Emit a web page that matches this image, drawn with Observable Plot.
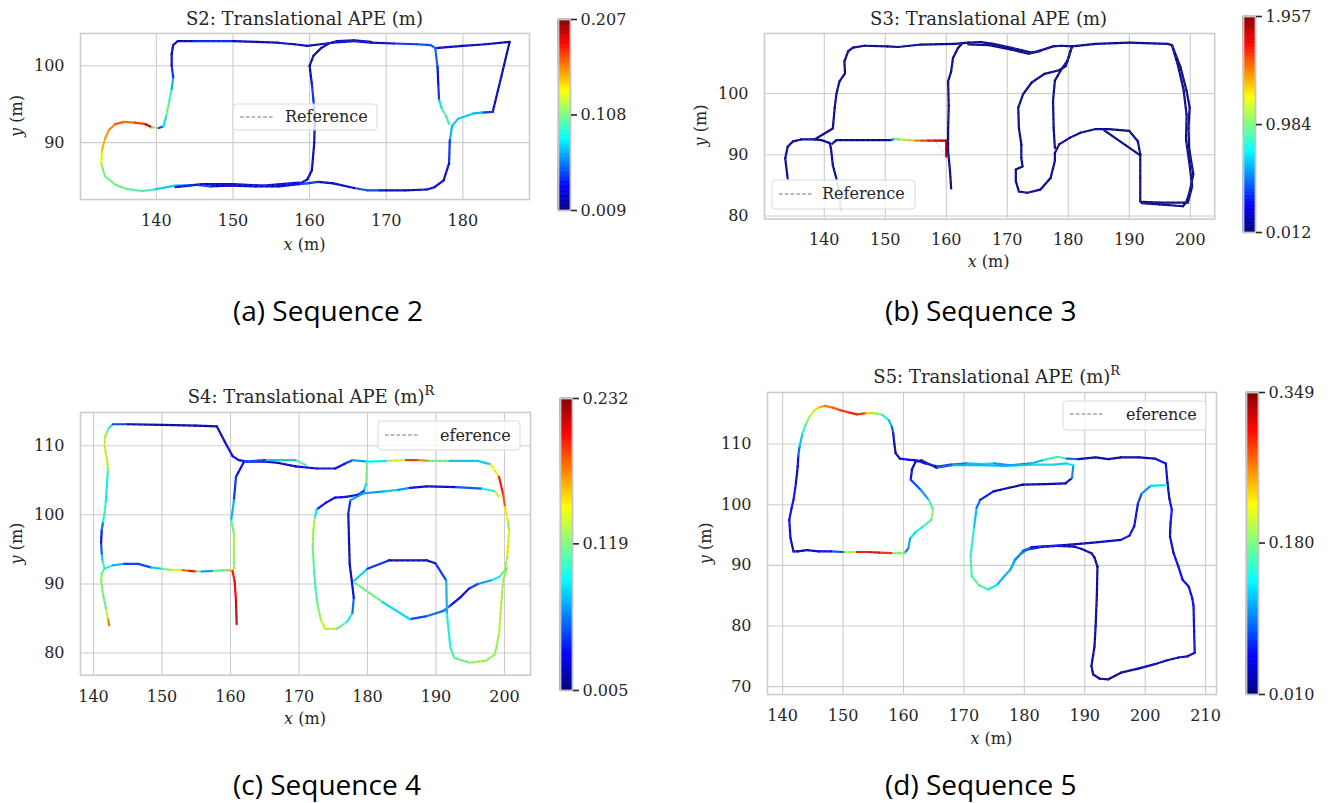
<!DOCTYPE html>
<html><head><meta charset="utf-8">
<script src="https://cdn.jsdelivr.net/npm/d3@7"></script>
<script src="https://cdn.jsdelivr.net/npm/@observablehq/plot@0.6"></script>
<style>
body{margin:0;background:#fff;}
#root{position:relative;width:1338px;height:803px;overflow:hidden;background:#fff;}
#root svg{position:absolute;overflow:visible;}
</style></head><body><div id="root"></div>
<script>
// ---------- DATA: trajectories [x, y, APE] ----------
const s2PathA = [[176.4,102.3,0.035],[180,102.6,0.02],[183,102.8,0.02],[186.1,103.1,0.02],[185.0,98.5,0.02],[183.9,94.0,0.025],[182.5,93.9,0.06],[181.4,93.8,0.08],[179.4,93.1,0.07],[178.6,92.2,0.08],[178.3,90.3,0.06],[178.2,87.3,0.025],[177.5,85.1,0.025],[176.3,84.2,0.035],[175.3,83.9,0.025],[172.5,83.8,0.02],[169,83.8,0.025],[167.5,83.8,0.07],[165.8,84.1,0.025],[163.1,84.7,0.02],[161.1,84.9,0.025],[159.7,84.7,0.06],[158.6,84.6,0.035],[156,84.3,0.025],[153,84.3,0.02],[149.7,84.4,0.025],[147,84.3,0.02],[145.3,84.5,0.08],[142.5,84.4,0.06],[139.7,83.9,0.09],[138.1,83.7,0.1],[136,84.0,0.1],[134.7,84.5,0.11],[133.3,85.6,0.1],[132.8,87.3,0.12],[132.9,89.0,0.14],[133.3,90.5,0.15],[133.8,91.6,0.15],[134.6,92.4,0.16],[135.8,92.7,0.17],[137.2,92.6,0.15],[138.6,92.4,0.19],[139.4,92.0,0.2],[140.3,91.9,0.035],[140.9,92.1,0.06],[141.3,93.5,0.1],[141.7,95.5,0.11],[142.0,97.0,0.08],[142.2,98.5,0.06],[142.0,100.0,0.025],[142.0,101.5,0.02],[142.2,102.7,0.025],[142.8,103.2,0.02],[145,103.2,0.02],[148,103.2,0.06],[150,103.2,0.02],[153,103.1,0.02],[155.8,103.0,0.025],[158,102.8,0.02],[159.7,102.6,0.02],[161.4,102.8,0.025],[163,103.0,0.02],[165.8,103.2,0.035],[168,103.0,0.02],[171,102.9,0.025],[174,102.8,0.06],[175.8,102.7,0.035],[176.4,102.3,0.07],[176.7,99.8,0.035],[176.8,97.5,0.025],[176.9,95.5,0.06],[177.3,94.3,0.1],[177.8,93.5,0.11],[178.2,92.4,0.08]];
const s2PathB = [[158.6,84.6,0.035],[159.7,85.2,0.025],[160.3,86.4,0.02],[160.6,89.9,0.02],[160.7,93.3,0.025],[160.5,95.5,0.06],[160.3,97.6,0.025],[160.0,100.0,0.02],[160.5,101.3,0.02],[161.5,102.3,0.02],[162.5,102.9,0.025],[163.6,103.2,0.02],[165.8,103.3,0.025],[168,103.1,0.02]];
const s2PathC = [[142.5,84.2,0.035],[146,84.6,0.025],[150,84.6,0.035],[154,84.4,0.025],[158.6,84.8,0.035]];

const s3PathA = [[134.0,86.1,0.05],[133.6,89.4,0.04],[134.0,91.3,0.04],[134.9,92.2,0.04],[136.2,92.5,0.04],[138.4,92.5,0.04],[139.5,92.4,0.04],[140.9,91.9,0.04],[141.1,91.0,0.04],[141.4,88.3,0.05],[142.0,86.1,0.05]];
const s3Faint = [[142.0,86.1,0.05],[142.5,83.9,0.05],[142.8,80.9,0.05]];
const s3Faint2 = [[141.6,87.5,0.05],[142.3,84.5,0.05],[142.6,81.2,0.05]];
const s3PathB = [[138.4,92.5,0.04],[141.4,94.3,0.04],[141.7,97.6,0.04],[142.0,100.0,0.04],[142.5,102.0,0.04],[143.4,103.3,0.04],[143.3,105.2,0.04],[143.9,106.9,0.04],[144.7,107.5,0.04],[146.6,107.8,0.04],[150.4,107.7,0.04],[152.1,107.6,0.04],[155.9,108.0,0.04],[161.4,108.1,0.04],[163.6,108.3,0.04],[165.7,108.4,0.04],[167.7,108.1,0.04],[170.5,107.5,0.04],[174.0,106.7,0.04],[175.4,107.0,0.04],[177.5,107.7,0.04],[178.9,107.8,0.04],[180.6,107.7,0.04],[184.5,108.1,0.04],[190,108.3,0.04],[196.3,108.1,0.04],[197.0,107.9,0.04],[198.4,104.3,0.04],[199.4,100.4,0.04],[199.9,97.7,0.04],[199.7,94.4,0.04],[199.8,91.1,0.04],[200.5,86.8,0.04],[199.9,84.0,0.04],[199.4,82.4,0.04],[198.8,81.6,0.04],[194.9,81.9,0.04],[192.1,82.1,0.04],[191.8,82.4,0.04],[191.8,86.2,0.04],[191.8,90.1,0.04],[191.4,92.2,0.04],[190,93.9,0.04],[186.6,94.2,0.04],[184.5,94.2,0.04],[182,93.6,0.04],[180.3,92.8,0.04],[178.5,91.7,0.04],[177.8,90.3,0.04],[177.8,89.0,0.04],[177.1,86.2,0.04],[175.4,84.3,0.04],[173.3,83.8,0.04],[171.9,84.0,0.04],[171.4,85.7,0.04],[171.4,87.6,0.04],[172.5,88.1,0.04]];
const s3PathC = [[197.0,107.9,0.04],[198.0,104.5,0.04],[198.9,100.6,0.04],[199.4,96.5,0.04],[199.3,92.5,0.04],[200.0,87.5,0.04],[200.3,84.8,0.04],[199.6,82.2,0.04],[195,82.2,0.04],[192.1,82.3,0.04]];
const s3PathD = [[185.9,94.0,0.04],[191.8,89.9,0.04]];
const s3PathE = [[172.5,88.1,0.04],[172.3,89.5,0.04],[172.3,91.7,0.04],[171.9,94.4,0.04],[171.8,97.7,0.04],[172.6,99.9,0.04],[174.0,101.8,0.04],[176.1,103.2,0.04],[178.5,103.8,0.04],[179.6,104.5,0.04],[180.6,107.7,0.04],[179.9,105.4,0.04],[178.9,104.0,0.04],[177.8,102.1,0.04],[177.5,98.8,0.04],[177.6,94.4,0.04],[177.8,91.1,0.04]];
const s3PathF = [[163.6,108.0,0.04],[167,107.9,0.04],[170.5,107.2,0.04],[173.5,106.5,0.04],[175.4,106.9,0.04]];
const s3PathG = [[141.3,91.8,0.04],[142.0,92.4,0.04],[146,92.4,0.04],[151.0,92.4,0.06],[151.5,92.6,0.85],[152.5,92.5,1.0],[153.7,92.4,1.2],[155.0,92.3,1.4],[155.9,92.3,1.5],[157,92.3,1.65],[158.1,92.3,1.75],[159.2,92.3,1.8],[160.0,92.3,1.85],[160.0,91,1.9],[160.0,89.7,1.92]];
const s3RefG = [[141.3,91.8],[142.0,92.4],[151.0,92.4],[155.9,92.3],[158.1,92.3],[160.0,89.8]];
const s3PathH = [[162.5,108.1,0.04],[161.9,107.4,0.04],[161.1,105.8,0.04],[160.8,103.6,0.04],[160.3,102.0,0.04],[160.4,98,0.04],[160.3,94,0.04],[160.3,90.5,0.04],[160.6,87.5,0.04],[160.8,84.5,0.04]];

const s4PathA = [[142.3,84.0,0.2],[142.1,85.0,0.15],[141.8,86.5,0.12],[141.4,88.5,0.11],[141.1,90.5,0.13],[141.2,91.5,0.12],[141.6,92.2,0.1],[142.8,92.7,0.09],[144.5,92.9,0.06],[146.5,92.9,0.035],[148.4,92.4,0.06],[150,92.2,0.1],[151.5,92.0,0.14],[153,92.0,0.15],[154,91.9,0.21],[155,91.8,0.2],[155.8,91.8,0.035],[157.5,91.9,0.1],[159.5,92.0,0.12],[160.3,91.9,0.2],[160.6,90.4,0.2],[160.8,87.6,0.21],[160.9,84.2,0.22]];
const s4PathB = [[141.6,92.2,0.12],[141.3,93.5,0.09],[141.2,94.4,0.07],[141.1,96,0.035],[141.2,97.8,0.025],[141.4,99.0,0.09],[141.6,100.2,0.11],[141.8,102,0.1],[142.0,105.0,0.08],[142.1,106.5,0.12],[142.0,107.9,0.14],[141.6,110,0.13],[141.7,111.3,0.15],[142.2,112.5,0.1],[142.8,113.1,0.08],[145,113.1,0.015],[150,113.0,0.012],[155,112.9,0.015],[158.0,112.8,0.015],[159.2,110.5,0.025],[160.3,108.5,0.035],[161.2,107.9,0.025],[162.5,107.7,0.035],[165.2,107.7,0.025],[167,107.5,0.015],[169.5,107.0,0.025],[172.6,106.7,0.035],[175.3,106.7,0.035],[176.9,107.5,0.025],[177.8,107.9,0.06],[180,107.7,0.08],[183,107.8,0.1],[185.6,107.9,0.18],[187.5,107.9,0.2],[189,107.8,0.14],[192,107.8,0.09],[196.1,107.8,0.07],[198,107.3,0.09],[199.2,105.5,0.2],[199.8,103,0.2],[200.1,101.1,0.17],[200.5,99,0.12],[200.7,97.7,0.13],[200.5,95.5,0.16],[200.4,93.9,0.14],[200.1,92.0,0.12],[199.2,91.0,0.1],[198,90.5,0.08],[196.1,90.0,0.06],[194.8,89.3,0.035],[193.6,88.1,0.025],[192,86.8,0.035],[191.1,86.1,0.08],[188.5,85.3,0.035],[186.2,84.9,0.06],[182,87.5,0.11],[178.1,90.2,0.12]];
const s4PathC = [[179.9,107.7,0.1],[179.9,106,0.13],[179.8,104.5,0.11],[179.5,103.5,0.06],[178.6,102.9,0.035],[176.9,102.6,0.025],[175.3,102.5,0.035],[174.0,101.8,0.025],[172.6,100.8,0.035],[172.3,99.5,0.14],[172.1,97.8,0.13],[172.0,95.5,0.12],[172.2,92.0,0.11],[172.4,89.5,0.1],[172.7,87,0.12],[173.2,84.8,0.13],[173.8,83.5,0.14],[175.5,83.5,0.13],[177.0,84.5,0.1],[177.8,85.8,0.08],[178.0,88.0,0.035],[177.7,90.5,0.025],[177.4,92.9,0.015],[177.3,96.5,0.015],[177.2,100.2,0.025],[177.5,102.1,0.06],[179.4,103.1,0.08],[182.5,103.4,0.06],[184.5,103.6,0.1],[186.2,103.9,0.035],[188.7,104.1,0.025],[193,104.0,0.035],[196.7,103.8,0.07],[198.6,103.4,0.12],[199.2,102.6,0.15]];
const s4PathD = [[178.1,90.5,0.1],[180,92.2,0.06],[183.1,93.4,0.025],[188.7,93.4,0.015],[189.9,93.0,0.025],[191.5,90.5,0.06],[191.6,85.6,0.09],[192.1,80.8,0.1],[192.7,79.3,0.11],[194.9,78.6,0.12],[197.3,78.9,0.13],[198.6,79.8,0.12],[199.2,82.7,0.13],[199.5,86.6,0.14],[199.8,90.5,0.12],[200.4,92.4,0.13]];
const s4PathE = [[171,107.2,0.12],[169.5,107.9,0.1],[165,107.9,0.06],[162,107.7,0.035],[160.8,105.5,0.025],[160.5,102.1,0.06],[160.1,99.2,0.09],[160.5,97.3,0.14],[160.5,94.4,0.12],[160.5,92.2,0.13]];

const s5PathA = [[141.8,92.3,0.025],[141.3,94.5,0.035],[141.1,97.5,0.06],[141.5,99.5,0.035],[141.8,100.8,0.08],[142.2,103.5,0.035],[142.5,106.3,0.025],[142.6,108,0.07],[142.8,109.6,0.1],[143.3,111.8,0.14],[143.9,113.4,0.17],[144.5,114.6,0.2],[145.3,115.6,0.22],[146.2,116.1,0.24],[147,116.3,0.26],[148.3,116.0,0.27],[149.5,115.6,0.28],[151,115.2,0.3],[152.3,114.9,0.31],[153.8,115.1,0.27],[155.1,115.1,0.2],[156.5,114.8,0.17],[157.6,113.9,0.13],[158.1,112.8,0.1],[158.3,111.8,0.06],[158.5,110,0.025],[158.7,108.5,0.025],[159.4,107.6,0.035],[161,107.4,0.06],[162.2,107.3,0.035],[163.6,106.8,0.07],[165.7,106.3,0.06],[167.8,106.6,0.08],[170.6,106.8,0.1],[173,106.7,0.14],[175,106.8,0.12],[177.7,106.5,0.08],[181.2,106.8,0.1],[183.3,107.4,0.13],[185.5,107.9,0.18],[187,107.6,0.14],[188.9,107.5,0.035],[191.8,107.8,0.02],[193.9,107.5,0.025],[196,107.8,0.02],[199,107.8,0.025],[201.6,107.6,0.035],[203.4,106.8,0.06],[203.7,103.5,0.035],[204,101,0.025],[204.4,99.2,0.08],[204.2,97,0.035],[204.1,94.8,0.025],[204.7,92,0.035],[205.5,89.8,0.06],[206.2,87.6,0.035],[207.2,86.5,0.06],[207.8,84.5,0.035],[208,83.3,0.07],[208.1,79,0.035],[208.2,75.6,0.06],[207,75.0,0.025],[205.5,74.8,0.035],[203.5,74.3,0.025],[201.6,73.7,0.035],[199,73.0,0.025],[196,72.3,0.02],[193.9,71.2,0.02],[192.5,71.3,0.02],[191.4,72.0,0.025],[191.1,73.4,0.02],[191.6,76.5,0.02],[191.8,80.0,0.02],[192.0,85,0.02],[192.1,89.8,0.02],[191.6,91.3,0.02],[191.1,92.0,0.025],[189.5,92.7,0.035],[188.2,93.1,0.025],[185.5,93.2,0.035],[183.3,93.1,0.025],[181.5,92.8,0.06],[180.5,92.6,0.08],[179.3,91.8,0.12],[178.4,90.9,0.1],[177.7,89.3,0.12]];
const s5PathB = [[177.7,89.3,0.12],[178.6,91.0,0.11],[179.8,92.4,0.09],[181.2,93.0,0.07],[186.1,93.3,0.035],[191,93.7,0.025],[196,94.2,0.035],[197.4,94.9,0.06],[198.2,96.5,0.035],[198.8,100.2,0.06],[199.4,101.8,0.08],[200.9,103.1,0.12],[202.7,103.2,0.14],[203.4,103.2,0.13]];
const s5PathC = [[177.7,89.3,0.12],[176.5,88,0.11],[175.5,86.8,0.12],[174.0,86.0,0.15],[172.5,86.7,0.17],[171.3,88.2,0.17],[171.1,91.5,0.16],[171.7,96.4,0.14],[172.1,99.5,0.1],[172.7,100.8,0.08],[174.9,102.2,0.035],[177.5,102.8,0.025],[179.8,103.3,0.025],[183.5,103.4,0.025],[186.8,103.5,0.025],[187.9,104.4,0.06],[188.1,106.5,0.14],[187,106.8,0.13],[185,106.6,0.12],[181,106.6,0.14],[177,106.4,0.1],[173,106.5,0.13],[168,106.5,0.1],[165.5,106.1,0.06],[163,107.3,0.025],[162,107.1,0.025]];
const s5PathD = [[162,107.1,0.025],[161.4,105.8,0.035],[161.2,104.1,0.06],[162.8,102.5,0.09],[164.2,100.8,0.12],[164.9,99.2,0.2],[164.6,97.5,0.18],[163.1,96.3,0.15],[162.0,95.5,0.14],[161.1,94.4,0.12],[160.8,92.8,0.1],[160.2,92.0,0.09],[158,92.0,0.28],[156,92.1,0.3],[154,92.2,0.32],[152,92.2,0.28],[150,92.2,0.12],[148,92.3,0.035],[146,92.3,0.06],[144,92.5,0.025],[142.5,92.3,0.035],[141.8,92.3,0.025]];

// colour-bar ranges and ticks
const s2Range = [0.009, 0.207], s2CbTicks = [0.009, 0.108, 0.207];
const s3Range = [0.012, 1.957], s3CbTicks = [0.012, 0.984, 1.957];
const s4Range = [0.005, 0.232], s4CbTicks = [0.005, 0.119, 0.232];
const s5Range = [0.010, 0.349], s5CbTicks = [0.010, 0.180, 0.349];
// axis ticks
const s2XTicks = [140,150,160,170,180], s2YTicks = [90,100];
const s3XTicks = [140,150,160,170,180,190,200], s3YTicks = [80,90,100];
const s4XTicks = [140,150,160,170,180,190,200], s4YTicks = [80,90,100,110];
const s5XTicks = [140,150,160,170,180,190,200,210], s5YTicks = [70,80,90,100,110];
// texts
const titles = ["S2: Translational APE (m)","S3: Translational APE (m)","S4: Translational APE (m)","S5: Translational APE (m)"];
const titleSup = ["", "", "R", "R"];
const legendTexts = ["Reference","Reference","eference","eference"];
const captions = ["(a) Sequence 2","(b) Sequence 3","(c) Sequence 4","(d) Sequence 5"];

// ---------- RENDER ----------
const SERIF = "'DejaVu Serif', serif";
const INK = "#262626";
function jet(t){
  const c = v => Math.max(0, Math.min(1, v));
  const r = c(Math.min(4*t-1.5, -4*t+4.5)), g = c(Math.min(4*t-0.5, -4*t+3.5)), b = c(Math.min(4*t+0.5, -4*t+2.5));
  return `rgb(${Math.round(r*255)},${Math.round(g*255)},${Math.round(b*255)})`;
}
function segs(path){ return d3.pairs(path).map(([a,b]) => ({x1:a[0],y1:a[1],x2:b[0],y2:b[1],e:(a[2]+b[2])/2})); }
const root = document.getElementById("root");

const panels = [
  {L:80, R:529, T:33, B:199, xd:[130.1,188.7], yd:[82.6,104.2], xt:s2XTicks, yt:s2YTicks, range:s2Range, cbt:s2CbTicks,
   paths:[s2PathA,s2PathB,s2PathC], faint:[], refs:[s2PathA,s2PathB,s2PathC],
   cb:{L:558,R:570,T:19,B:210}},
  {L:763.5, R:1213.7, T:32.7, B:218.3, xd:[130.2,204.0], yd:[79.5,109.8], xt:s3XTicks, yt:s3YTicks, range:s3Range, cbt:s3CbTicks,
   paths:[s3PathA,s3PathB,s3PathC,s3PathD,s3PathE,s3PathF,s3PathH,s3PathG], faint:[s3Faint,s3Faint2], refs:[s3PathA,s3PathB,s3PathC,s3PathD,s3PathE,s3PathF,s3PathH,s3RefG,s3Faint],
   cb:{L:1243,R:1255,T:16,B:232}},
  {L:80, R:530, T:412.3, B:675, xd:[138.1,203.8], yd:[76.8,114.8], xt:s4XTicks, yt:s4YTicks, range:s4Range, cbt:s4CbTicks,
   paths:[s4PathA,s4PathB,s4PathC,s4PathD,s4PathE], faint:[], refs:[s4PathA,s4PathB,s4PathC,s4PathD,s4PathE],
   cb:{L:560,R:572,T:398,B:690}},
  {L:767, R:1216, T:392.3, B:694.3, xd:[137.5,211.8], yd:[68.7,118.5], xt:s5XTicks, yt:s5YTicks, range:s5Range, cbt:s5CbTicks,
   paths:[s5PathA,s5PathB,s5PathC,s5PathD], faint:[], refs:[s5PathA,s5PathB,s5PathC,s5PathD],
   cb:{L:1246,R:1258,T:392.3,B:694.3}}
];

panels.forEach(p => {
  const mL=60, mR=12, mT=12, mB=45;
  const w = p.R-p.L, h = p.B-p.T;
  const marks = [
    Plot.gridX({ticks:p.xt, stroke:"#cccccc", strokeOpacity:1, strokeWidth:1.1}),
    Plot.gridY({ticks:p.yt, stroke:"#cccccc", strokeOpacity:1, strokeWidth:1.1}),
    Plot.frame({stroke:"#cccccc", strokeWidth:1.6}),
    Plot.axisX({ticks:p.xt, tickSize:0, tickPadding:15, fontSize:16, fontFamily:SERIF, fill:INK, label:null}),
    Plot.axisY({ticks:p.yt, tickSize:0, tickPadding:16, fontSize:16, fontFamily:SERIF, fill:INK, label:null}),
    ...p.faint.map(f => Plot.link(segs(f), {x1:"x1",y1:"y1",x2:"x2",y2:"y2",stroke:"e",strokeWidth:1.2,strokeOpacity:0.4})),
    ...p.paths.map(path => Plot.link(segs(path), {x1:"x1",y1:"y1",x2:"x2",y2:"y2",stroke:"e",strokeWidth:2.2,strokeLinecap:"round"})),
    ...p.refs.map(r => Plot.line(r, {x:d=>d[0], y:d=>d[1], stroke:"#808080", strokeWidth:0.7, strokeDasharray:"3,2.5", strokeOpacity:0.5}))
  ];
  const svg = Plot.plot({
    width: w+mL+mR, height: h+mT+mB, marginLeft:mL, marginRight:mR, marginTop:mT, marginBottom:mB,
    x:{domain:p.xd, label:null}, y:{domain:p.yd, label:null},
    color:{type:"linear", domain:p.range, interpolate:jet},
    style:{fontFamily:SERIF, fontSize:"16px", background:"transparent"},
    marks
  });
  svg.style.left = (p.L-mL)+"px"; svg.style.top = (p.T-mT)+"px";
  root.appendChild(svg);

  // colour bar
  const c = p.cb, cmL=2, cmR=80, cmT=12, cmB=12;
  const n = 150, [lo, hi] = p.range;
  const steps = d3.range(n).map(i => ({y1: lo+(hi-lo)*i/n, y2: lo+(hi-lo)*(i+1)/n}));
  const cbs = Plot.plot({
    width:(c.R-c.L)+cmL+cmR, height:(c.B-c.T)+cmT+cmB, marginLeft:cmL, marginRight:cmR, marginTop:cmT, marginBottom:cmB,
    x:{domain:[0,1], axis:null}, y:{domain:p.range, label:null},
    color:{type:"linear", domain:p.range, interpolate:jet},
    style:{fontFamily:SERIF, fontSize:"16px", background:"transparent"},
    marks:[
      Plot.rect(steps, {x1:0, x2:1, y1:"y1", y2:"y2", fill:d=>d.y1, stroke:d=>d.y1, strokeWidth:0.6}),
      Plot.frame({stroke:"#c4c4c4", strokeWidth:1.8}),
      Plot.axisY({anchor:"right", ticks:p.cbt, tickFormat:d3.format(".3f"), tickSize:6, tickPadding:4, fontSize:16, fontFamily:SERIF, fill:INK, stroke:INK, strokeWidth:1.6, label:null})
    ]
  });
  cbs.style.left = (c.L-cmL)+"px"; cbs.style.top = (c.T-cmT)+"px";
  root.appendChild(cbs);
});

// ---------- overlay texts: titles, axis labels, legends, captions ----------
const ov = d3.select(root).append("svg").attr("width",1338).attr("height",803).style("left","0px").style("top","0px");
const titlePos = [[304.5,25],[988.6,25],[311,403],[996.7,383]];
const xlabPos = [[304.5,250],[988.6,267],[305,724],[991.4,744]];
const ylabPos = [[22,116],[706,125.5],[22,543.6],[711,543.3]];
const legPos = [
  {x0:233,y0:104,x1:377,y1:130,d0:240,d1:273,dy:117,tx:285,ty:122},
  {x0:772,y0:180,x1:915,y1:209,d0:779,d1:812,dy:194,tx:822,ty:199},
  {x0:378,y0:421,x1:520,y1:450,d0:385,d1:419,dy:435,tx:440,ty:441},
  {x0:1063,y0:401,x1:1206,y1:430,d0:1070,d1:1104,dy:414,tx:1126,ty:420}
];
const capPos = [[233,321],[885,321],[233,795],[885,795]];

titles.forEach((t,i) => {
  const tx = ov.append("text").attr("x",titlePos[i][0]).attr("y",titlePos[i][1]).attr("text-anchor","middle")
    .attr("font-family",SERIF).attr("font-size",18).attr("fill",INK).text(t);
  if (titleSup[i]) tx.append("tspan").attr("dy",-8).attr("font-size",13).text(titleSup[i]);
});
xlabPos.forEach(([x,y]) => {
  const t = ov.append("text").attr("x",x).attr("y",y).attr("text-anchor","middle").attr("font-family",SERIF).attr("font-size",16).attr("fill",INK);
  t.append("tspan").attr("font-style","italic").text("x");
  t.append("tspan").text(" (m)");
});
ylabPos.forEach(([x,y]) => {
  const t = ov.append("text").attr("transform",`translate(${x},${y}) rotate(-90)`).attr("text-anchor","middle").attr("font-family",SERIF).attr("font-size",16).attr("fill",INK);
  t.append("tspan").attr("font-style","italic").text("y");
  t.append("tspan").text(" (m)");
});
legPos.forEach((l,i) => {
  ov.append("rect").attr("x",l.x0).attr("y",l.y0).attr("width",l.x1-l.x0).attr("height",l.y1-l.y0).attr("rx",3.5)
    .attr("fill","#fff").attr("fill-opacity",0.8).attr("stroke","#d9d9d9").attr("stroke-width",1);
  ov.append("line").attr("x1",l.d0).attr("x2",l.d1).attr("y1",l.dy).attr("y2",l.dy).attr("stroke","#777").attr("stroke-width",1.1).attr("stroke-dasharray","3.6,2.2");
  ov.append("text").attr("x",l.tx).attr("y",l.ty).attr("font-family",SERIF).attr("font-size",16).attr("fill",INK).text(legendTexts[i]);
});
captions.forEach((c,i) => {
  ov.append("text").attr("x",capPos[i][0]).attr("y",capPos[i][1]).attr("font-family","'Open Sans', 'Noto Sans', sans-serif").attr("font-size",28).attr("fill","#000").text(c);
});
</script>
</body></html>
